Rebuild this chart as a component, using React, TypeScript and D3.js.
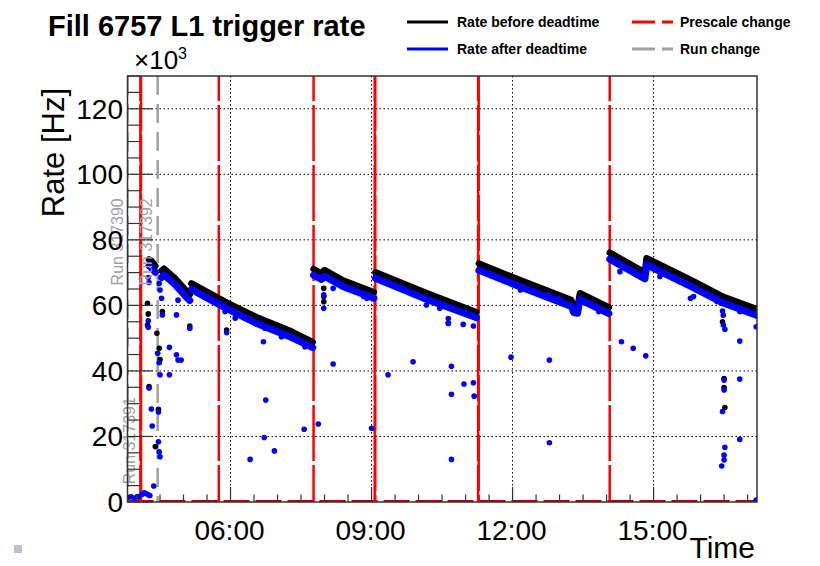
import React from "react";
import * as d3 from "d3";

// ---------------- data ----------------
const timeDomain = ["03:48:30", "17:12:00"];
const yDomain = [0, 130];
const yMajorStep = 20;
const yMinorStep = 5;

// prescale changes: time and number of overlapping changes
const prescaleTimes = ["04:05", "05:45", "07:46", "09:04", "11:16", "14:04"];
const prescaleCounts = [2, 1, 1, 2, 2, 1];

// run changes
const runTimes = ["03:48:30", "04:05", "04:27"];
const runNumbers = ["317390", "317391", "317392"];

// Dense bands (rate before deadtime = black, after deadtime = blue)
const blackBands: [string, number][][] = [
  [["04:16", 74.0], ["04:19", 73.6], ["04:24", 72.0]],
  [["04:32", 70.6], ["04:35", 71.2], ["04:49", 68.3], ["05:06", 63.7], ["05:08", 63.3]],
  [["05:10", 66.7], ["05:57", 60.6], ["06:35", 56.2], ["07:18", 52.0], ["07:45", 48.8]],
  [["07:46", 71.1], ["07:56", 69.8], ["08:00", 70.8], ["08:24", 67.6], ["09:03", 64.0]],
  [["09:05", 70.1], ["10:10", 63.8], ["11:14", 57.9]],
  [["11:17", 72.8], ["12:02", 68.4], ["13:15", 61.6], ["13:18", 59.6], ["13:23", 59.4], ["13:26", 63.7], ["14:03", 59.4]],
  [["14:04", 76.1], ["14:49", 70.0], ["14:51", 74.4], ["15:48", 67.7], ["16:29", 62.6], ["17:12", 58.8]],
];
const blueBands: [string, number][][] = [
  [["04:16", 72.1], ["04:19", 71.5], ["04:24", 70.1]],
  [["04:32", 68.5], ["04:35", 69.3], ["04:49", 66.4], ["05:06", 61.9], ["05:08", 61.5]],
  [["05:10", 64.9], ["05:57", 58.8], ["06:35", 54.3], ["07:18", 50.2], ["07:45", 47.1]],
  [["07:46", 69.2], ["07:56", 67.9], ["08:00", 68.9], ["08:24", 65.7], ["09:03", 62.2]],
  [["09:05", 68.3], ["10:10", 61.9], ["11:14", 56.2]],
  [["11:17", 70.7], ["12:02", 66.4], ["13:15", 59.7], ["13:18", 57.8], ["13:23", 57.6], ["13:26", 61.8], ["14:03", 57.5]],
  [["14:04", 74.1], ["14:49", 68.1], ["14:51", 72.4], ["15:48", 65.7], ["16:29", 60.7], ["17:12", 56.9]],
];

// isolated points
const blackPoints: [string, number][] = [
  ["04:14", 60.6], ["04:15", 57.4], ["04:14", 54.0], ["04:16", 35.2],
  ["04:26", 51.5], ["04:29", 46.9], ["04:30", 43.5], ["04:28", 28.3], ["04:24", 16.9], ["04:33", 58.1],
  ["05:08", 53.7], ["05:55", 52.5],
  ["07:59", 65.2], ["07:59", 62.7], ["07:59", 61.1],
  ["10:38", 54.6],
  ["16:28", 55.0], ["16:30", 37.7], ["16:30", 34.9], ["16:31", 28.8],
];
const bluePoints: [string, number][] = [
  ["03:49", 1.4], ["03:53", 1.6], ["03:57", 1.2], ["04:01", 1.7], ["04:03", 1.5],
  ["04:07", 2.4], ["04:10", 2.8], ["04:12", 2.6], ["04:15", 2.2], ["04:17", 2.0],
  ["04:15", 55.3], ["04:15", 53.3], ["04:16", 34.8], ["04:19", 28.4], ["04:20", 23.2], ["04:22", 4.9],
  ["04:15", 68.5], ["04:16", 67.0],
  ["04:27", 45.4], ["04:29", 42.5], ["04:30", 38.8], ["04:28", 27.5], ["04:28", 18.4], ["04:29", 15.3],
  ["04:30", 13.8], ["04:29", 66.7], ["04:30", 64.7], ["04:32", 62.2], ["04:33", 57.1],
  ["04:42", 47.2], ["04:51", 44.9], ["04:53", 43.3], ["04:57", 43.3], ["04:42", 38.8], ["04:51", 57.1],
  ["04:53", 61.6], ["05:08", 53.0],
  ["05:55", 51.7], ["05:53", 58.1], ["06:06", 56.1], ["06:44", 53.0], ["07:05", 50.4], ["07:35", 47.4],
  ["06:42", 48.9], ["06:45", 31.1], ["06:43", 19.7], ["06:56", 15.6], ["06:25", 13.0], ["07:34", 22.2],
  ["07:52", 23.8], ["07:59", 59.1], ["07:59", 63.2], ["08:11", 65.2], ["08:11", 42.1], ["08:50", 62.7],
  ["08:54", 62.2], ["09:00", 22.5],
  ["09:21", 38.8], ["09:36", 65.2], ["09:53", 42.8], ["10:10", 60.1], ["10:27", 59.1], ["10:38", 56.0],
  ["10:38", 54.5], ["10:42", 41.4], ["10:42", 32.9], ["10:42", 13.0], ["10:57", 57.6], ["10:57", 54.2],
  ["10:58", 36.0], ["11:10", 53.7], ["11:10", 36.4], ["11:11", 32.3],
  ["11:44", 68.3], ["11:58", 44.2], ["12:10", 64.7], ["12:25", 64.2], ["12:46", 63.2], ["12:47", 43.3],
  ["12:47", 18.1], ["12:59", 62.2], ["13:50", 58.1],
  ["14:17", 70.3], ["14:19", 48.9], ["14:34", 46.9], ["14:50", 44.6], ["15:08", 68.8], ["15:47", 62.2],
  ["15:51", 62.7], ["16:21", 61.2], ["16:28", 58.3], ["16:29", 57.0], ["16:29", 54.0], ["16:31", 52.7],
  ["16:30", 37.2], ["16:30", 34.2], ["16:28", 27.6], ["16:31", 16.7], ["16:30", 14.3], ["16:30", 12.8],
  ["16:27", 11.0], ["16:50", 49.1], ["16:50", 37.5], ["16:50", 19.1], ["16:50", 58.1], ["17:11", 53.5],
  ["17:11", 0.6],
];

const legendItems = [
  { label: "Rate before deadtime", color: "#000000", dash: "" },
  { label: "Rate after deadtime", color: "#0000ff", dash: "" },
  { label: "Prescale change", color: "#ff0000", dash: "23 7" },
  { label: "Run change", color: "#a0a0a0", dash: "23 7" },
];

// ---------------- helpers ----------------
const parseT = (s: string) => {
  const p = s.split(":").map(Number);
  return new Date(2018, 5, 2, p[0], p[1], p[2] || 0);
};

const FONT = "'Liberation Sans', Arial, Helvetica, sans-serif";

export default function App() {
  const L = 127.5, R = 757, T = 76, B = 502;
  const x = d3.scaleTime().domain(timeDomain.map(parseT)).range([L, R]);
  const y = d3.scaleLinear().domain(yDomain).range([B, T]);

  const yMajor = d3.range(yDomain[0], yDomain[1] + 0.01, yMajorStep);
  const yMinor = d3.range(yDomain[0], yDomain[1] + 0.01, yMinorStep);
  const xMajor = x.ticks(d3.timeHour.every(3)!);
  const xMinor = x.ticks(d3.timeMinute.every(30)!);
  const fmt = d3.timeFormat("%H:%M");

  const line = d3
    .line<[string, number]>()
    .x((d) => x(parseT(d[0])))
    .y((d) => y(d[1]));

  return (
    <svg
      width={820}
      height={566}
      style={{ position: "absolute", left: 0, top: 0, background: "#fff" }}
      fontFamily={FONT}
    >
      <defs>
        <clipPath id="plotclip">
          <rect x={L} y={T} width={R - L} height={B - T} />
        </clipPath>
      </defs>
      <rect x={0} y={0} width={820} height={566} fill="#fff" />

      {/* title */}
      <text x={48} y={36} fontSize={29} fontWeight="bold" fill="#000">
        Fill 6757 L1 trigger rate
      </text>
      <text x={134} y={69} fontSize={26} fill="#000">
        ×10
        <tspan fontSize={16} dy={-10}>3</tspan>
      </text>

      {/* legend */}
      {legendItems.map((it, i) => {
        const col = Math.floor(i / 2);
        const row = i % 2;
        const lx = col === 0 ? 407 : 632;
        const ly = row === 0 ? 22 : 49;
        return (
          <g key={it.label}>
            <line
              x1={lx}
              x2={lx + 41}
              y1={ly}
              y2={ly}
              stroke={it.color}
              strokeWidth={3}
              strokeDasharray={it.dash || undefined}
            />
            <text x={col === 0 ? 457 : 680} y={ly + 5} fontSize={14} fontWeight="bold" fill="#000">
              {it.label}
            </text>
          </g>
        );
      })}

      {/* grid */}
      <g stroke="#000" strokeWidth={1} strokeDasharray="1.5 2.5">
        {yMajor
          .filter((v) => v > 0)
          .map((v) => (
            <line key={"gy" + v} x1={L} x2={R} y1={y(v)} y2={y(v)} />
          ))}
        {xMajor.map((d) => (
          <line key={"gx" + d.getTime()} x1={x(d)} x2={x(d)} y1={T} y2={B} />
        ))}
      </g>

      <g clipPath="url(#plotclip)">
        {/* bottom line at zero */}
        <line x1={L} x2={R} y1={B - 1} y2={B - 1} stroke="#b00000" strokeWidth={2} strokeDasharray="26 6" />

        {/* run changes */}
        {runTimes.map((t) => (
          <line
            key={"run" + t}
            x1={x(parseT(t))}
            x2={x(parseT(t))}
            y1={T}
            y2={B}
            stroke="#a0a0a0"
            strokeWidth={2.5}
            strokeDasharray="19 9"
          />
        ))}

        {/* prescale changes */}
        {prescaleTimes.map((t, i) =>
          d3.range(prescaleCounts[i]).map((k) => (
            <line
              key={"ps" + t + k}
              x1={x(parseT(t)) + k * 0.6}
              x2={x(parseT(t)) + k * 0.6}
              y1={T}
              y2={B}
              stroke="#ff0000"
              strokeWidth={2.5}
              strokeDasharray="56 4"
              strokeDashoffset={31 + k * 30}
            />
          ))
        )}

        {/* bands */}
        {blackBands.map((seg, i) => (
          <path
            key={"bb" + i}
            d={line(seg) || ""}
            fill="none"
            stroke="#000"
            strokeWidth={6.5}
            strokeLinecap="round"
            strokeLinejoin="round"
          />
        ))}
        {blackPoints.map((p, i) => (
          <circle key={"bp" + i} cx={x(parseT(p[0]))} cy={y(p[1])} r={2.8} fill="#000" />
        ))}
        {blueBands.map((seg, i) => (
          <path
            key={"ub" + i}
            d={line(seg) || ""}
            fill="none"
            stroke="#0000ff"
            strokeWidth={7}
            strokeLinecap="round"
            strokeLinejoin="round"
          />
        ))}
        {bluePoints.map((p, i) => (
          <circle key={"up" + i} cx={x(parseT(p[0]))} cy={y(p[1])} r={2.8} fill="#0000ff" />
        ))}
      </g>

      {/* run labels */}
      {runTimes.map((t, i) => {
        const lx = x(parseT(t)) - 5.5;
        const topV = i % 2 === 0 ? 92.7 : 32.0;
        return (
          <text
            key={"rl" + t}
            transform={`translate(${Math.max(lx, 123)},${y(topV)}) rotate(-90)`}
            textAnchor="end"
            fontSize={16}
            fill="#a0a0a0"
          >
            {"Run " + runNumbers[i]}
          </text>
        );
      })}

      {/* axes ticks */}
      <g stroke="#333" strokeWidth={1.2}>
        {yMinor.map((v) => {
          const major = v % yMajorStep === 0;
          return <line key={"ty" + v} x1={L} x2={L + (major ? 25 : 12.5)} y1={y(v)} y2={y(v)} />;
        })}
        {xMinor.map((d) => {
          const major = d.getHours() % 3 === 0 && d.getMinutes() === 0;
          return <line key={"tx" + d.getTime()} x1={x(d)} x2={x(d)} y1={B} y2={B - (major ? 15 : 7.5)} />;
        })}
      </g>
      <rect x={L} y={T} width={R - L} height={B - T} fill="none" stroke="#333" strokeWidth={1.5} />

      {/* tick labels */}
      {yMajor.map((v) => (
        <text key={"ly" + v} x={123} y={y(v) + 10} textAnchor="end" fontSize={28} fill="#000">
          {v}
        </text>
      ))}
      {xMajor.map((d) => (
        <text key={"lx" + d.getTime()} x={x(d) - 1} y={540} textAnchor="middle" fontSize={28} fill="#000">
          {fmt(d)}
        </text>
      ))}

      {/* axis titles */}
      <text transform="translate(64,88) rotate(-90)" textAnchor="end" fontSize={31} fill="#000">
        Rate [Hz]
      </text>
      <text x={755} y={558} textAnchor="end" fontSize={30} fill="#000">
        Time
      </text>

      {/* slide bullet */}
      <rect x={14} y={545} width={8} height={8} fill="#b8c4d6" />
    </svg>
  );
}
